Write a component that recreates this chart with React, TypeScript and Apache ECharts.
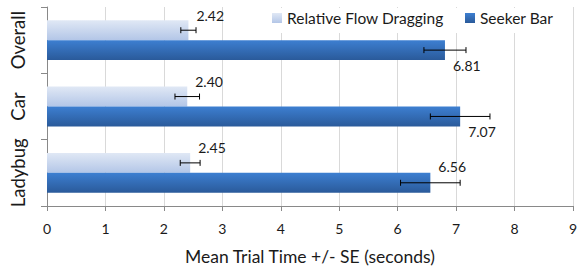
import React, { useEffect, useRef } from "react";
import * as echarts from "echarts";

const categories = ["Overall", "Car", "Ladybug"];
const flowValues = [2.42, 2.4, 2.45];
const flowSE = [0.13, 0.21, 0.17];
const seekerValues = [6.81, 7.07, 6.56];
const seekerSE = [0.36, 0.51, 0.51];
const seekerLabelSide = ["below", "below", "above"];
const xTicks = [0, 1, 2, 3, 4, 5, 6, 7, 8, 9];

const FONT = "Lato, 'Open Sans', sans-serif";
const BAR_CAT_GAP = 0.4;
const TEXT = "#1a1a1a";

export default function App() {
  const ref = useRef<HTMLDivElement>(null);
  useEffect(() => {
    const chart = echarts.init(ref.current!, null, { renderer: "svg" });
    const lightGrad = new echarts.graphic.LinearGradient(0, 0, 0, 1, [
      { offset: 0, color: "#e0e8f5" },
      { offset: 1, color: "#b3c6e7" },
    ]);
    const darkGrad = new echarts.graphic.LinearGradient(0, 0, 0, 1, [
      { offset: 0, color: "#3d7fd1" },
      { offset: 1, color: "#2a5a9a" },
    ]);

    const makeErr = (vals: number[], se: number[], side: number) => ({
      type: "custom",
      silent: true,
      z: 5,
      data: vals.map((v, i) => [v - se[i], v + se[i], i]),
      renderItem: (params: any, api: any) => {
        const lo = api.coord([api.value(0), api.value(2)]);
        const hi = api.coord([api.value(1), api.value(2)]);
        const band = api.size([0, 1])[1];
        const barH = (band * (1 - BAR_CAT_GAP)) / 2;
        const y = lo[1] + side * barH / 2;
        const cap = 3;
        const style = { stroke: "#000", lineWidth: 1 };
        return {
          type: "group",
          children: [
            { type: "line", shape: { x1: lo[0], y1: y, x2: hi[0], y2: y }, style },
            { type: "line", shape: { x1: lo[0], y1: y - cap, x2: lo[0], y2: y + cap }, style },
            { type: "line", shape: { x1: hi[0], y1: y - cap, x2: hi[0], y2: y + cap }, style },
          ],
        };
      },
    });

    const labelStyle = { fontFamily: FONT, fontSize: 14, color: TEXT };
    const legendCommon = {
      orient: "horizontal",
      top: 10,
      padding: 0,
      itemWidth: 10,
      itemHeight: 10,
      itemGap: 5,
      icon: "rect",
      textStyle: { fontFamily: FONT, fontSize: 15.5, color: TEXT },
    };

    chart.setOption({
      animation: false,
      textStyle: { fontFamily: FONT },
      grid: { left: 47, right: 1, top: 7, bottom: 63, containLabel: false },
      graphic: [
        {
          type: "rect",
          z: 3,
          shape: { x: 265, y: 8, width: 302, height: 25 },
          style: { fill: "#ffffff" },
          silent: true,
        },
      ],
      legend: [
        { ...legendCommon, data: ["Relative Flow Dragging"], left: 272 },
        { ...legendCommon, data: ["Seeker Bar"], left: 465 },
      ],
      xAxis: {
        type: "value",
        min: xTicks[0],
        max: xTicks[xTicks.length - 1],
        interval: 1,
        name: "Mean Trial Time +/- SE (seconds)",
        nameLocation: "middle",
        nameGap: 41,
        nameTextStyle: { fontFamily: FONT, fontSize: 17.5, color: TEXT },
        axisLine: { show: true, lineStyle: { color: "#898989" } },
        axisTick: { show: true, length: 5, lineStyle: { color: "#898989" } },
        axisLabel: { fontFamily: FONT, fontSize: 14, color: TEXT, margin: 15 },
        splitLine: { show: true, lineStyle: { color: "#d9d9d9" } },
      },
      yAxis: {
        type: "category",
        data: categories,
        inverse: true,
        axisLine: { show: true, lineStyle: { color: "#898989" } },
        axisTick: { show: true, length: 6, lineStyle: { color: "#898989" } },
        axisLabel: {
          rotate: 90,
          interval: 0,
          hideOverlap: false,
          fontFamily: FONT,
          fontSize: 18.5,
          color: TEXT,
          margin: 20,
        },
        splitLine: { show: false },
      },
      series: [
        {
          name: "Relative Flow Dragging",
          type: "bar",
          data: flowValues,
          barGap: "0%",
          barCategoryGap: BAR_CAT_GAP * 100 + "%",
          itemStyle: { color: lightGrad },
          label: {
            show: true,
            position: "right",
            distance: 8,
            offset: [0, -15],
            formatter: (p: any) => p.value.toFixed(2),
            ...labelStyle,
          },
        },
        {
          name: "Seeker Bar",
          type: "bar",
          data: seekerValues.map((v, i) => ({
            value: v,
            label: { offset: [0, seekerLabelSide[i] === "above" ? -16 : 15] },
          })),
          barGap: "0%",
          barCategoryGap: BAR_CAT_GAP * 100 + "%",
          itemStyle: { color: darkGrad },
          label: {
            show: true,
            position: "right",
            distance: 8,
            formatter: (p: any) => p.value.toFixed(2),
            ...labelStyle,
          },
        },
        makeErr(flowValues, flowSE, -1),
        makeErr(seekerValues, seekerSE, 1),
      ],
    });
    return () => chart.dispose();
  }, []);
  return <div ref={ref} style={{ width: 580, height: 270, position: "absolute", left: 0, top: 0 }} />;
}
